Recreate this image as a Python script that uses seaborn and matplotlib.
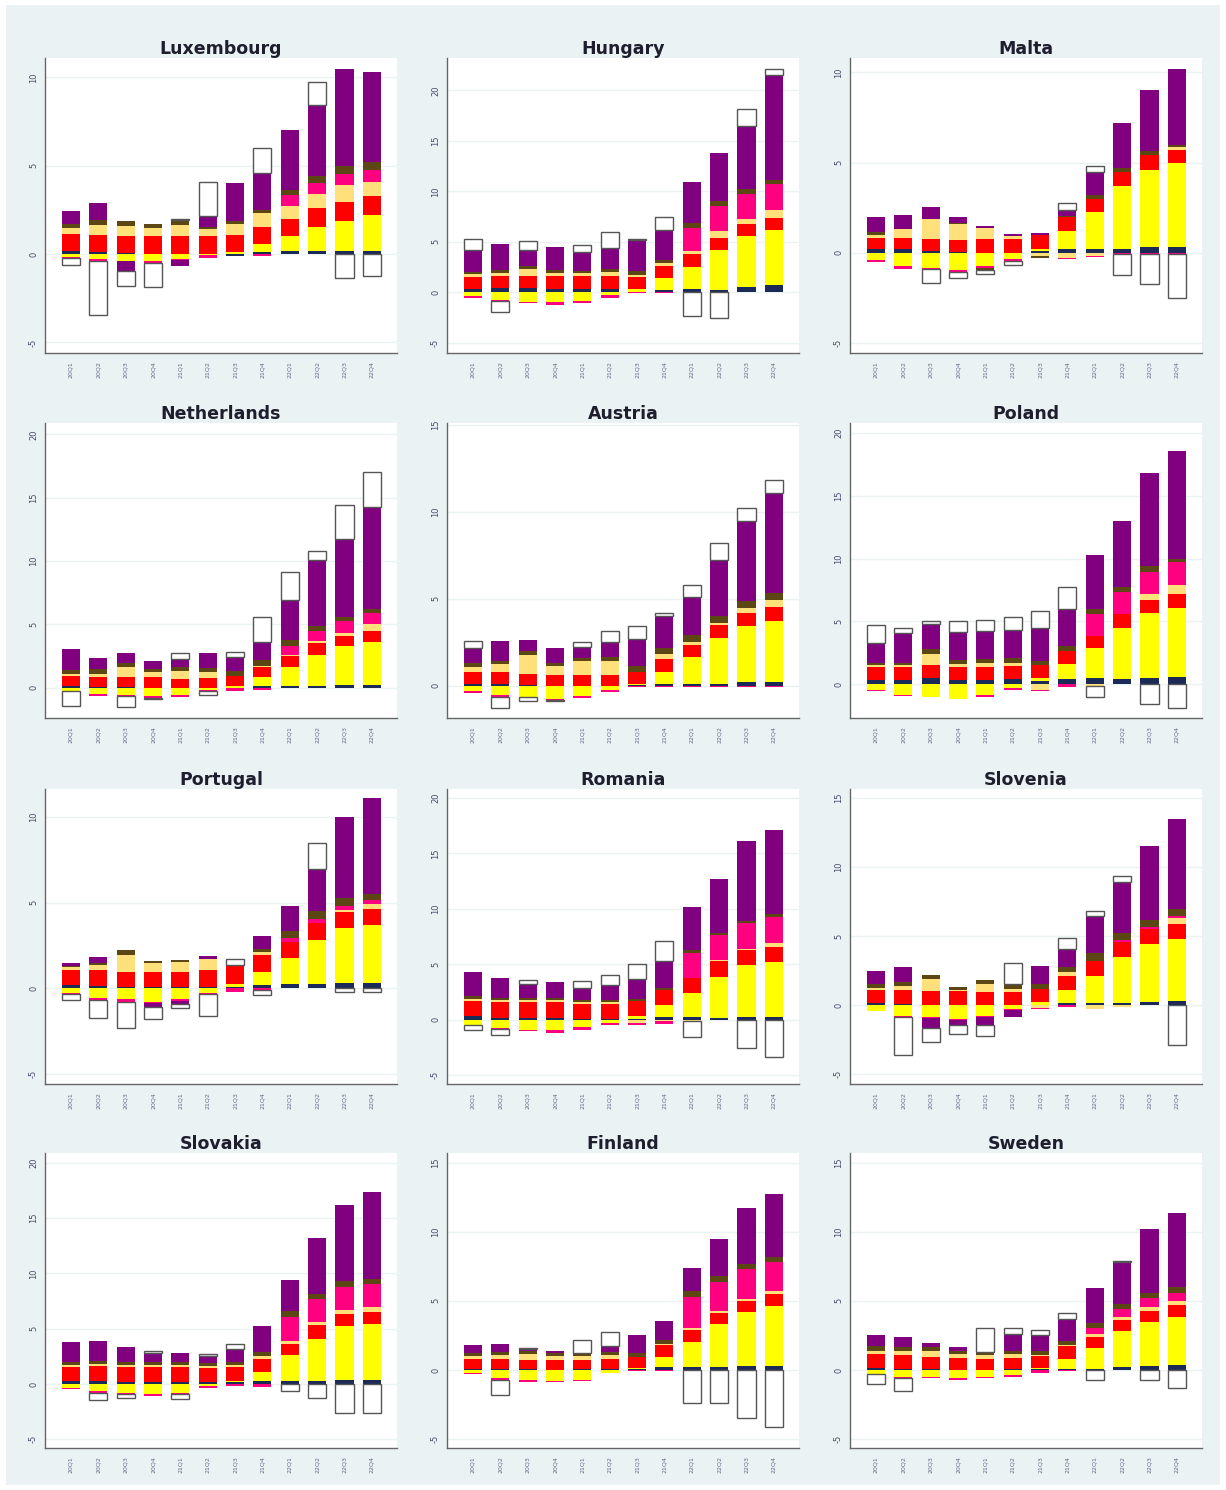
import numpy as np
import matplotlib
matplotlib.use("Agg")
import matplotlib.pyplot as plt
from matplotlib.patches import Rectangle
import seaborn as sns

countries = ["Luxembourg", "Hungary", "Malta",
             "Netherlands", "Austria", "Poland",
             "Portugal", "Romania", "Slovenia",
             "Slovakia", "Finland", "Sweden"]
quarters = ["20Q1", "20Q2", "20Q3", "20Q4", "21Q1", "21Q2",
            "21Q3", "21Q4", "22Q1", "22Q2", "22Q3", "22Q4"]

# contributions per country (rows) and quarter (cols), stacked bottom -> top
navy = [
    [0.15, 0.1, 0.05, 0.03, 0.02, 0, -0.1, 0.1, 0.15, 0.15, 0.2, 0.2],
    [0.3, 0.4, 0.45, 0.35, 0.3, 0.3, 0.05, 0.2, 0.3, 0.25, 0.55, 0.75],
    [0.2, 0.2, 0.1, 0.05, 0, 0, 0.1, 0.2, 0.2, 0.2, 0.3, 0.3],
    [0.15, 0.05, 0.05, 0, 0, 0, 0, 0.15, 0.15, 0.15, 0.2, 0.2],
    [0.1, 0.1, 0.05, 0, 0, 0, 0.05, 0.1, 0.1, 0.1, 0.2, 0.2],
    [0.3, 0.3, 0.45, 0.3, 0.35, 0.4, 0.25, 0.4, 0.45, 0.4, 0.5, 0.55],
    [0.2, 0.15, 0.1, 0.05, 0.05, 0.05, 0.1, 0.2, 0.25, 0.25, 0.3, 0.3],
    [0.3, 0.15, 0.15, 0.15, 0.1, 0.1, 0.1, 0.25, 0.25, 0.15, 0.2, 0.2],
    [0.15, 0.1, 0.05, 0, 0.05, 0.05, 0.05, 0.15, 0.15, 0.15, 0.25, 0.3],
    [0.3, 0.3, 0.2, 0.2, 0.2, 0.15, 0.15, 0.3, 0.3, 0.3, 0.35, 0.35],
    [0.1, 0.1, 0.05, 0, 0.05, 0.05, 0.05, 0.2, 0.2, 0.2, 0.3, 0.3],
    [0.15, 0.1, 0.05, 0, 0, 0.05, 0.05, 0.1, 0.1, 0.2, 0.3, 0.35],
]
yellow = [
    [-0.15, -0.3, -0.4, -0.4, -0.3, -0.05, 0.1, 0.45, 0.85, 1.4, 1.7, 2.0],
    [-0.4, -0.75, -0.95, -1.0, -0.9, -0.3, 0.3, 1.2, 2.2, 3.95, 5.05, 5.45],
    [-0.42, -0.75, -0.85, -0.95, -0.75, -0.35, 0.1, 1.0, 2.05, 3.5, 4.3, 4.7],
    [-0.3, -0.5, -0.55, -0.7, -0.6, -0.2, 0.1, 0.65, 1.45, 2.45, 3.05, 3.4],
    [-0.3, -0.55, -0.65, -0.75, -0.6, -0.25, 0.05, 0.7, 1.55, 2.65, 3.25, 3.5],
    [-0.45, -0.85, -1.0, -1.15, -0.9, -0.3, 0.2, 1.2, 2.45, 4.1, 5.15, 5.5],
    [-0.25, -0.6, -0.65, -0.8, -0.65, -0.25, 0.15, 0.75, 1.5, 2.55, 3.2, 3.4],
    [-0.45, -0.75, -0.9, -0.95, -0.7, -0.3, 0.25, 1.05, 2.2, 3.7, 4.7, 5.0],
    [-0.45, -0.75, -0.85, -1.0, -0.75, -0.3, 0.2, 0.95, 2.0, 3.35, 4.2, 4.5],
    [-0.35, -0.65, -0.8, -0.95, -0.8, -0.2, 0.1, 0.8, 2.3, 3.8, 4.85, 5.05],
    [-0.25, -0.6, -0.75, -0.8, -0.7, -0.2, 0.1, 0.7, 1.8, 3.1, 3.9, 4.3],
    [-0.3, -0.5, -0.5, -0.6, -0.5, -0.35, 0.1, 0.7, 1.5, 2.6, 3.2, 3.45],
]
red = [
    [1.0, 1.0, 1.0, 0.97, 1.0, 1.0, 1.0, 1.0, 1.0, 1.05, 1.05, 1.1],
    [1.25, 1.2, 1.2, 1.25, 1.3, 1.3, 1.2, 1.2, 1.25, 1.2, 1.2, 1.2],
    [0.65, 0.65, 0.65, 0.65, 0.75, 0.75, 0.8, 0.8, 0.75, 0.8, 0.8, 0.7],
    [0.75, 0.75, 0.75, 0.8, 0.7, 0.75, 0.85, 0.8, 0.9, 0.9, 0.85, 0.9],
    [0.7, 0.7, 0.65, 0.6, 0.6, 0.6, 0.7, 0.75, 0.7, 0.75, 0.75, 0.8],
    [1.1, 1.1, 1.05, 1.1, 1.05, 1.05, 1.05, 1.05, 0.95, 1.05, 1.05, 1.15],
    [0.85, 0.9, 0.85, 0.9, 0.9, 1.0, 1.05, 1.0, 0.95, 1.0, 0.95, 0.95],
    [1.4, 1.45, 1.45, 1.4, 1.3, 1.3, 1.3, 1.35, 1.3, 1.4, 1.35, 1.35],
    [0.95, 1.0, 0.95, 1.0, 0.9, 0.9, 0.95, 1.0, 1.05, 1.1, 1.05, 1.05],
    [1.25, 1.3, 1.3, 1.3, 1.3, 1.3, 1.3, 1.2, 1.0, 1.2, 1.1, 1.1],
    [0.7, 0.7, 0.7, 0.7, 0.7, 0.75, 0.8, 0.9, 0.9, 0.8, 0.8, 0.9],
    [1.0, 1.0, 0.9, 0.85, 0.8, 0.8, 0.85, 0.9, 0.8, 0.8, 0.8, 0.9],
]
light = [
    [0.3, 0.55, 0.55, 0.45, 0.65, 0.4, 0.6, 0.75, 0.75, 0.8, 0.95, 0.8],
    [0.3, 0.3, 0.65, 0.3, 0.3, 0.4, 0.2, 0.3, 0.3, 0.7, 0.5, 0.8],
    [0.15, 0.45, 1.1, 0.9, 0.65, 0.2, -0.2, -0.3, -0.15, 0, 0, 0.15],
    [0.15, 0.3, 0.8, 0.4, 0.65, 0.5, -0.05, 0.1, 0.1, 0.2, 0.25, 0.55],
    [0.3, 0.45, 1.05, 0.55, 0.85, 0.8, 0, 0.3, 0.15, 0.1, 0.25, 0.45],
    [0.1, 0.1, 0.9, 0.2, 0.3, 0.25, -0.45, 0, -0.15, 0, 0.5, 0.7],
    [0.2, 0.3, 1.0, 0.5, 0.6, 0.65, 0, 0.15, 0, 0, 0.15, 0.3],
    [0.15, 0.15, 0.15, 0.2, 0.2, 0.2, -0.3, -0.15, -0.15, 0.1, 0.1, 0.4],
    [0.15, 0.3, 0.9, 0.1, 0.6, 0.25, -0.2, 0.3, -0.25, -0.1, 0, 0.45],
    [0.2, 0.2, 0.2, 0.2, 0.2, 0.2, 0.15, 0.2, 0.3, 0.3, 0.4, 0.5],
    [0.2, 0.3, 0.4, 0.3, 0.25, 0.3, 0, 0.1, 0.15, 0.15, 0.15, 0.2],
    [0.25, 0.25, 0.45, 0.3, 0.3, 0.3, 0.1, 0.1, 0.2, 0.2, 0.25, 0.3],
]
pink = [
    [-0.05, -0.12, 0, -0.08, -0.05, -0.2, 0, -0.1, 0.6, 0.65, 0.65, 0.65],
    [-0.15, -0.1, -0.1, -0.2, -0.12, -0.3, -0.1, -0.1, 2.35, 2.5, 2.45, 2.5],
    [-0.1, -0.12, -0.05, -0.1, -0.1, -0.1, 0, -0.05, -0.1, -0.05, -0.05, -0.05],
    [0, -0.2, -0.1, -0.1, -0.15, -0.05, -0.25, -0.15, 0.7, 0.8, 0.9, 0.85],
    [-0.1, -0.1, 0, -0.05, -0.1, -0.1, -0.05, -0.05, -0.05, -0.05, -0.05, -0.05],
    [-0.1, -0.1, -0.05, -0.05, -0.1, -0.2, -0.1, -0.25, 1.75, 1.8, 1.75, 1.8],
    [-0.1, -0.1, -0.15, -0.05, -0.1, -0.1, -0.2, -0.1, 0.25, 0.25, 0.2, 0.2],
    [0, -0.1, -0.1, -0.25, -0.2, -0.2, -0.2, -0.2, 2.3, 2.25, 2.35, 2.35],
    [0, -0.1, -0.05, -0.05, -0.1, -0.05, -0.1, -0.1, 0, 0.1, 0.15, 0.15],
    [-0.15, -0.15, -0.1, -0.15, -0.15, -0.2, -0.15, -0.3, 2.2, 2.1, 2.1, 2.0],
    [-0.05, -0.1, -0.1, -0.1, -0.1, -0.05, -0.1, -0.1, 2.25, 2.15, 2.15, 2.1],
    [0, -0.1, -0.1, -0.1, -0.1, -0.15, -0.2, -0.1, 0.4, 0.6, 0.65, 0.6],
]
brown = [
    [0.25, 0.3, 0.3, 0.25, 0.25, 0.15, 0.2, 0.2, 0.3, 0.35, 0.45, 0.45],
    [0.2, 0.3, 0.3, 0.3, 0.25, 0.3, 0.35, 0.35, 0.45, 0.4, 0.45, 0.4],
    [0.15, 0.05, 0.05, 0.05, -0.08, 0, -0.1, 0.05, 0.2, 0.2, 0.25, 0.15],
    [0.35, 0.35, 0.35, 0.3, 0.3, 0.3, 0.35, 0.5, 0.45, 0.4, 0.35, 0.3],
    [0.2, 0.2, 0.25, 0.15, 0.15, 0.25, 0.35, 0.35, 0.4, 0.4, 0.45, 0.4],
    [0.2, 0.2, 0.4, 0.35, 0.3, 0.35, 0.35, 0.4, 0.4, 0.4, 0.45, 0.3],
    [0.05, 0.1, 0.3, 0.15, 0.1, 0, 0.05, 0.2, 0.4, 0.45, 0.45, 0.35],
    [0.25, 0.2, 0.2, 0.2, 0.15, 0.15, 0.2, 0.2, 0.2, 0.2, 0.2, 0.2],
    [0.3, 0.3, 0.3, 0.25, 0.3, 0.35, 0.35, 0.35, 0.55, 0.55, 0.5, 0.5],
    [0.25, 0.3, 0.25, 0.25, 0.25, 0.25, 0.3, 0.4, 0.5, 0.4, 0.5, 0.5],
    [0.2, 0.2, 0.2, 0.2, 0.2, 0.2, 0.3, 0.3, 0.4, 0.4, 0.4, 0.4],
    [0.3, 0.3, 0.25, 0.2, 0.2, 0.25, 0.3, 0.3, 0.4, 0.4, 0.4, 0.4],
]
purple = [
    [0.75, 0.95, -0.55, -0.05, -0.35, 0.6, 2.1, 2.1, 3.35, 4.05, 5.5, 5.1],
    [2.1, 2.6, 1.6, 2.3, 1.85, 2.05, 3.1, 2.95, 4.05, 4.8, 6.3, 10.4],
    [0.85, 0.75, 0.65, 0.35, 0.1, 0.1, 0.1, 0.3, 1.3, 2.5, 3.35, 4.2],
    [1.65, 0.85, 0.8, 0.6, 0.6, 1.15, 1.1, 1.4, 3.15, 5.2, 6.1, 8.1],
    [0.85, 1.15, 0.65, 0.9, 0.65, 0.85, 1.55, 1.8, 2.2, 3.25, 4.55, 5.7],
    [1.55, 2.35, 2.0, 2.2, 2.2, 2.3, 2.65, 2.9, 4.3, 5.25, 7.4, 8.6],
    [0.15, 0.35, 0, -0.25, -0.2, 0.2, 0, 0.75, 1.45, 2.5, 4.75, 5.6],
    [2.2, 1.85, 1.25, 1.45, 1.15, 1.35, 1.8, 2.4, 3.95, 4.9, 7.2, 7.6],
    [0.95, 1.05, -0.75, -0.4, -0.6, -0.5, 1.3, 1.35, 2.7, 3.7, 5.35, 6.5],
    [1.8, 1.8, 1.35, 0.85, 0.85, 0.6, 1.2, 2.3, 2.8, 5.1, 6.9, 7.9],
    [0.6, 0.6, 0.15, 0.2, 0, 0.4, 1.3, 1.35, 1.65, 2.65, 4.0, 4.5],
    [0.85, 0.7, 0.3, 0.3, 0, 1.2, 1.1, 1.6, 2.55, 3.0, 4.6, 5.35],
]
residual = [
    [-0.4, -3.05, -0.85, -1.35, 0.05, 1.95, 0, 1.4, 0, 1.3, -1.35, -1.25],
    [1.1, -1.05, 0.9, 0, 0.7, 1.65, 0.05, 1.25, -2.3, -2.5, 1.7, 0.6],
    [0, 0, -0.75, -0.35, -0.25, -0.2, 0, 0.4, 0.3, -1.15, -1.7, -2.45],
    [-1.15, 0, -0.9, -0.1, 0.45, -0.35, 0.4, 2.0, 2.2, 0.7, 2.7, 2.7],
    [0.45, -0.6, -0.25, -0.05, 0.25, 0.65, 0.75, 0.2, 0.7, 0.95, 0.75, 0.75],
    [1.45, 0.45, 0.25, 0.85, 0.9, 1.0, 1.3, 1.75, -0.85, 0, -1.6, -1.9],
    [-0.35, -1.05, -1.5, -0.7, -0.2, -1.3, 0.35, -0.3, 0, 1.5, -0.2, -0.2],
    [-0.45, -0.55, 0.4, 0, 0.6, 0.9, 1.35, 1.85, -1.4, 0, -2.55, -3.4],
    [0, -2.75, -1.0, -0.6, -0.8, 1.5, 0, 0.75, 0.4, 0.4, 0, -2.9],
    [0, -0.7, -0.4, 0.15, -0.45, 0.2, 0.4, 0, -0.6, -1.3, -2.6, -2.6],
    [0, -1.1, 0.1, 0, 1.0, 1.05, 0, 0, -2.4, -2.4, -3.5, -4.1],
    [-0.7, -0.9, 0, 0, 1.75, 0.45, 0.4, 0.45, -0.7, 0.1, -0.7, -1.3],
]

y_lims = [(-5.6, 11.1), (-6.0, 23.2), (-5.55, 10.8),
          (-2.4, 20.9), (-1.85, 15.1), (-2.7, 20.8),
          (-5.6, 11.65), (-5.8, 20.8), (-5.7, 15.65),
          (-5.8, 20.9), (-5.65, 15.7), (-5.65, 15.7)]
y_ticks = [[-5, 0, 5, 10], [-5, 0, 5, 10, 15, 20], [-5, 0, 5, 10],
           [0, 5, 10, 15, 20], [0, 5, 10, 15], [0, 5, 10, 15, 20],
           [-5, 0, 5, 10], [-5, 0, 5, 10, 15, 20], [-5, 0, 5, 10, 15],
           [-5, 0, 5, 10, 15, 20], [-5, 0, 5, 10, 15], [-5, 0, 5, 10, 15]]

components = [
    (navy, "#1b2a57"),
    (yellow, "#ffff00"),
    (red, "#ff0000"),
    (light, "#ffe07a"),
    (pink, "#ff0080"),
    (brown, "#5c4614"),
    (purple, "#800080"),
    (residual, "white"),
]

BG = "#eaf2f3"
sns.set_style("white")
plt.rcParams["font.family"] = ["DejaVu Sans"]

fig = plt.figure(figsize=(12.26, 14.90), dpi=100, facecolor="white")

W, H = 1226, 1490
# light graph region inside a thin white margin (drawn below the axes)
fig.patches.append(Rectangle((6 / W, 5 / H), (W - 12) / W, (H - 10) / H,
                             transform=fig.transFigure, facecolor=BG,
                             edgecolor="none", zorder=-10))

col_left = [45, 447, 850]
row_top = [58, 423, 789, 1153]
ax_w, ax_h = 352, 295

x = np.arange(len(quarters))
bar_w = 0.66

for i, country in enumerate(countries):
    r, c = divmod(i, 3)
    ax = fig.add_axes([col_left[c] / W, 1 - (row_top[r] + ax_h) / H, ax_w / W, ax_h / H])
    ax.set_facecolor("white")

    pos_base = np.zeros(len(x))
    neg_base = np.zeros(len(x))
    for values, color in components:
        v = np.array(values[i], dtype=float)
        pos = np.where(v > 0, v, 0.0)
        neg = np.where(v < 0, v, 0.0)
        is_resid = color == "white"
        ec = "#555555" if is_resid else color
        lw = 1.0 if is_resid else 0.0
        m = pos > 0
        if m.any():
            ax.bar(x[m], pos[m], bottom=pos_base[m], width=bar_w,
                   color=color, edgecolor=ec, linewidth=lw, zorder=3)
        m = neg < 0
        if m.any():
            ax.bar(x[m], neg[m], bottom=neg_base[m], width=bar_w,
                   color=color, edgecolor=ec, linewidth=lw, zorder=3)
        pos_base += pos
        neg_base += neg

    ax.set_xlim(-0.95, 11.92)
    ax.set_ylim(*y_lims[i])
    ax.set_yticks(y_ticks[i])
    ax.set_yticklabels([str(t) for t in y_ticks[i]], rotation=90, va="center",
                       fontsize=6, color="#4a4a6a")
    ax.set_xticks(x)
    ax.set_xticklabels(quarters, rotation=90, fontsize=4.5, color="#6a6a8a")
    ax.tick_params(axis="y", length=3, width=0.6, color="#555555", pad=2)
    ax.tick_params(axis="x", length=0, pad=6)
    ax.grid(axis="y", color=BG, linewidth=1.0, zorder=0)
    ax.set_axisbelow(True)
    for side in ["top", "right"]:
        ax.spines[side].set_visible(False)
    for side in ["left", "bottom"]:
        ax.spines[side].set_color("#666666")
        ax.spines[side].set_linewidth(1.0)
    ax.set_title(country, fontsize=12.5, fontweight="bold", color="#1e1e2e", pad=3)

fig.savefig("out.png", dpi=100, facecolor="white")
